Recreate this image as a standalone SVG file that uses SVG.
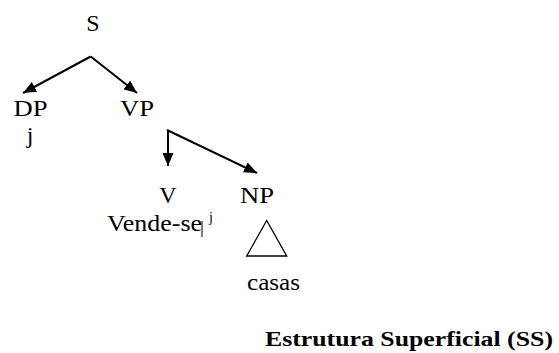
<svg xmlns="http://www.w3.org/2000/svg" width="559" height="353" viewBox="0 0 559 353">
<style>
.edge{stroke:#000;stroke-width:2;fill:none}
</style>
<defs>
<marker id="ah" viewBox="0 0 13 11" refX="13" refY="5.5" markerWidth="13" markerHeight="11" markerUnits="userSpaceOnUse" orient="auto">
<path d="M0,0 L13,5.5 L0,11 z" fill="#000"/>
</marker>
</defs>
<rect width="559" height="353" fill="#fff"/>
<g id="connectors">
<line class="edge" x1="90.7" y1="56.5" x2="23" y2="93" marker-end="url(#ah)"/>
<line class="edge" x1="90.7" y1="56.5" x2="137" y2="93" marker-end="url(#ah)"/>
<line class="edge" x1="168" y1="130" x2="168" y2="166" marker-end="url(#ah)"/>
<line class="edge" x1="167" y1="130" x2="257" y2="173" marker-end="url(#ah)"/>
</g>
<g id="node-S"><text font-family="Liberation Serif, serif" font-size="24" x="93" y="31" text-anchor="middle">S</text></g>
<g id="node-DP">
<text font-family="Liberation Serif, serif" font-size="24" x="13.5" y="116" textLength="34" lengthAdjust="spacingAndGlyphs">DP</text>
<text font-family="Liberation Serif, serif" font-size="24" x="30" y="143" text-anchor="middle">j</text>
</g>
<g id="node-VP"><text font-family="Liberation Serif, serif" font-size="24" x="120" y="116" textLength="34" lengthAdjust="spacingAndGlyphs">VP</text></g>
<g id="node-V">
<text font-family="Liberation Serif, serif" font-size="24" x="168" y="203" text-anchor="middle">V</text>
<text font-family="Liberation Serif, serif" font-size="24" x="107" y="231" textLength="95" lengthAdjust="spacingAndGlyphs">Vende-se</text>
<line x1="202" y1="221" x2="202" y2="237" stroke="#000" stroke-width="1"/>
<text font-family="Liberation Serif, serif" font-size="14" x="209" y="222">j</text>
</g>
<g id="node-NP">
<text font-family="Liberation Serif, serif" font-size="24" x="240" y="203" textLength="34" lengthAdjust="spacingAndGlyphs">NP</text>
<polygon points="266.7,220.5 246.7,256 286.7,256" fill="none" stroke="#000" stroke-width="1.3"/>
<text font-family="Liberation Serif, serif" font-size="24" x="247" y="290" textLength="53" lengthAdjust="spacingAndGlyphs">casas</text>
</g>
<g id="caption"><text font-family="Liberation Serif, serif" font-size="22" font-weight="bold" x="265" y="346" textLength="288" lengthAdjust="spacingAndGlyphs">Estrutura Superficial (SS)</text></g>
</svg>
